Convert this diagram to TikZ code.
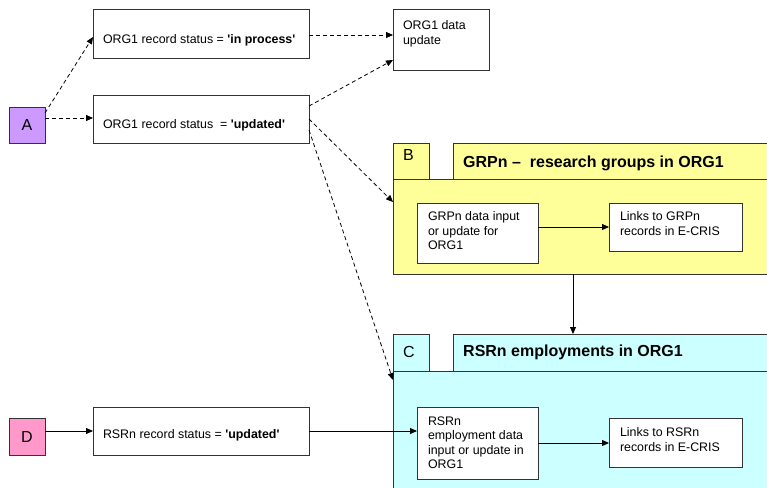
\documentclass[tikz,border=0pt]{standalone}
\usepackage{fontspec}
\setmainfont{Liberation Sans}
\usetikzlibrary{arrows.meta}
\definecolor{cA}{HTML}{CC99FF}
\definecolor{cB}{HTML}{FFFF99}
\definecolor{cC}{HTML}{CCFFFF}
\definecolor{cD}{HTML}{FF99CC}
\definecolor{edge}{HTML}{333333}
\newcommand{\sq}{\textquotesingle}
\tikzset{
  box/.style={draw=edge, line width=1pt, fill=white, inner sep=0pt, outer sep=0pt, anchor=north west},
  txt/.style={inner sep=0pt, outer sep=0pt, font=\fontsize{12.4}{14.2}\selectfont, align=left},
  letter/.style={inner sep=0pt, font=\fontsize{16}{18}\selectfont},
  ttl/.style={inner sep=0pt, anchor=base west, font=\fontsize{16}{18}\selectfont\bfseries},
  conn/.style={line width=0.8pt, draw=black, -{Triangle[length=7pt,width=6pt]}},
  dconn/.style={conn, dash pattern=on 4pt off 3pt},
}
\begin{document}
\begin{tikzpicture}[x=1pt,y=-1pt]
\useasboundingbox (0,0) rectangle (767,487);
\clip (0,0) rectangle (767,487);
\fill[white] (0,0) rectangle (767,487);
% left column boxes
\node[box, fill=cA, minimum width=36pt, minimum height=36pt] (A) at (9,107) {};
\node[letter] at (A.center) {A};
\node[box, fill=cD, minimum width=36pt, minimum height=37pt] (D) at (9,418) {};
\node[letter] at (D.center) {D};
\node[box, minimum width=216pt, minimum height=48pt] (inproc) at (93,10) {};
\node[txt, anchor=base west] at (103,44) {ORG1 record status = \textbf{\sq in process\sq}};
\node[box, minimum width=216pt, minimum height=48pt] (upd) at (93,95) {};
\node[txt, anchor=base west] at (103,128) {ORG1 record status\ \ = \textbf{\sq updated\sq}};
\node[box, minimum width=216pt, minimum height=48pt] (rsrn) at (93,407) {};
\node[txt, anchor=base west] at (103,438) {RSRn record status = \textbf{\sq updated\sq}};
\node[box, minimum width=96pt, minimum height=60pt] (data) at (393,10) {};
\node[txt, anchor=north west] at (403,21) {ORG1 data\\update};
% B group
\node[box, fill=cB, minimum width=36pt, minimum height=36pt] (Btab) at (393,143) {};
\node[letter, anchor=base west] at (403,160.5) {B};
\node[box, fill=cB, minimum width=330pt, minimum height=36pt] (Btitle) at (453,143) {};
\node[ttl] at (463,167) {GRPn \textendash\ \ research groups in ORG1};
\node[box, fill=cB, minimum width=390pt, minimum height=95pt] (Bbody) at (393,179) {};
\node[box, minimum width=121pt, minimum height=60pt] (Bin) at (417,203) {};
\node[txt, anchor=north west] at (428,212) {GRPn data input\\or update for\\ORG1};
\node[box, minimum width=133pt, minimum height=48pt] (Blink) at (609,203) {};
\node[txt, anchor=north west] at (620,212) {Links to GRPn\\records in E-CRIS};
% C group
\node[box, fill=cC, minimum width=36pt, minimum height=37pt] (Ctab) at (393,334) {};
\node[letter, anchor=base west] at (403,357) {C};
\node[box, fill=cC, minimum width=330pt, minimum height=37pt] (Ctitle) at (453,334) {};
\node[ttl] at (463,356) {RSRn employments in ORG1};
\node[box, fill=cC, minimum width=390pt, minimum height=130pt] (Cbody) at (393,371) {};
\node[box, minimum width=121pt, minimum height=72pt] (Cin) at (417,407) {};
\node[txt, anchor=north west] at (428,417) {RSRn\\employment data\\input or update in\\ORG1};
\node[box, minimum width=133pt, minimum height=49pt] (Clink) at (609,418) {};
\node[txt, anchor=north west] at (620,428) {Links to RSRn\\records in E-CRIS};
% connectors
\draw[dconn] ([yshift=-6pt]A.north east) -- ([yshift=-27pt]inproc.north west);
\draw[dconn] ([yshift=-11pt]A.north east) -- ([yshift=-23pt]upd.north west);
\draw[dconn] ([yshift=-25pt]inproc.north east) -- ([yshift=-25pt]data.north west);
\draw[dconn] ([yshift=-11pt]upd.north east) -- ([yshift=-50pt]data.north west);
\draw[dconn] ([yshift=-24pt]upd.north east) -- ([yshift=-23pt]Bbody.north west);
\draw[dconn] ([yshift=-35pt]upd.north east) -- ([yshift=-9pt]Cbody.north west);
\draw[conn] (Bbody.south west -| 573,0) -- (Ctitle.north west -| 573,0);
\draw[conn] ([yshift=-24pt]Bin.north east) -- ([yshift=-24pt]Blink.north west);
\draw[conn] ([yshift=-13pt]D.north east) -- ([yshift=-24pt]rsrn.north west);
\draw[conn] ([yshift=-24pt]rsrn.north east) -- ([yshift=-24pt]Cin.north west);
\draw[conn] ([yshift=-36pt]Cin.north east) -- ([yshift=-25pt]Clink.north west);
\end{tikzpicture}
\end{document}
